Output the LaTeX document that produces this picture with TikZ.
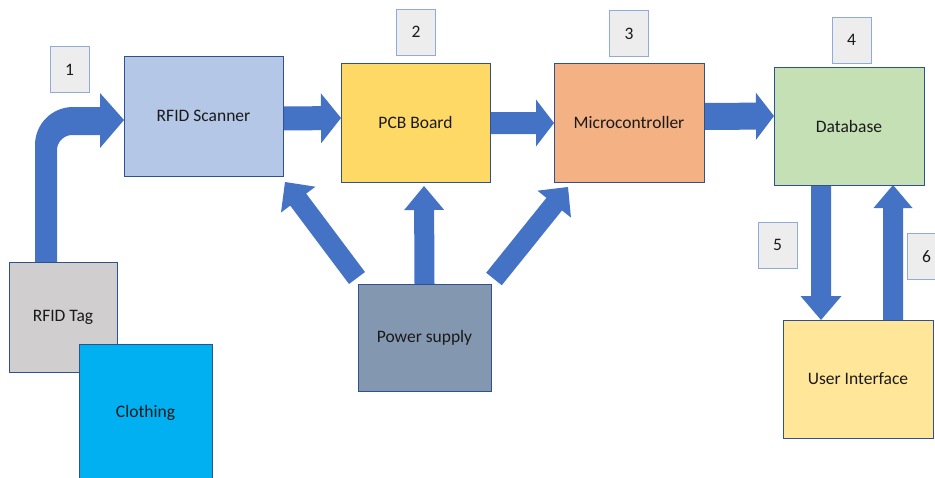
\documentclass[tikz,border=0pt]{standalone}
\usepackage{fontspec}
\setmainfont{Carlito}
\usetikzlibrary{calc,backgrounds}

\definecolor{arrowblue}{HTML}{4472C4}
\definecolor{edgeblue}{HTML}{2F528F}
\definecolor{tagedge}{HTML}{8FAADC}
\definecolor{tagfill}{HTML}{EDEDED}
\definecolor{scanfill}{HTML}{B4C7E7}
\definecolor{pcbfill}{HTML}{FFD966}
\definecolor{mcufill}{HTML}{F4B183}
\definecolor{dbfill}{HTML}{C5E0B4}
\definecolor{uifill}{HTML}{FFE699}
\definecolor{powerfill}{HTML}{8497B0}
\definecolor{rfidfill}{HTML}{D0CECE}
\definecolor{clothfill}{HTML}{00B0F0}
\definecolor{labeltext}{HTML}{1A1A1A}

% straight block arrow: #1 start, #2 tip, #3 shaft half width,
% #4 head half width, #5 head length
\newcommand\blockarrow[5]{%
  \coordinate (ba) at ($(#2)!#5!(#1)$);
  \fill[arrowblue]
    ($(#1)!#3!90:(#2)$) -- ($(ba)!#3!-90:(#1)$) -- ($(ba)!#4!-90:(#1)$)
    -- (#2) -- ($(ba)!#4!90:(#1)$) -- ($(ba)!#3!90:(#1)$)
    -- ($(#1)!#3!-90:(#2)$) -- cycle;}

\tikzset{
  blk/.style={draw=edgeblue, line width=1pt, inner sep=0pt, outer sep=0pt,
    text=labeltext, font=\fontsize{17.5}{21}\selectfont},
  numbox/.style={draw=tagedge, fill=tagfill, line width=1pt, inner sep=0pt,
    outer sep=0pt, minimum width=39pt, minimum height=46pt,
    text=labeltext, font=\fontsize{17.5}{21}\selectfont},
}

\begin{document}
\begin{tikzpicture}[x=1pt, y=-1pt]
\useasboundingbox (0,0) rectangle (935,477);

% main blocks
\node[blk, fill=scanfill, minimum width=159pt, minimum height=120pt] (scan) at (203.5,116) {RFID Scanner};
\node[blk, fill=pcbfill, minimum width=149pt, minimum height=119pt] (pcb) at (415.5,122.5) {PCB Board};
\node[blk, fill=mcufill, minimum width=150pt, minimum height=119pt] (mcu) at (629,122.5) {Microcontroller};
\node[blk, fill=dbfill, minimum width=150pt, minimum height=118pt] (db) at (849,126) {Database};
\node[blk, fill=rfidfill, minimum width=108pt, minimum height=110pt] (tag) at (63,317) {RFID Tag};
\node[blk, fill=clothfill, minimum width=133pt, minimum height=138pt] (cloth) at (145.5,413) {Clothing};
\node[blk, fill=powerfill, minimum width=133pt, minimum height=107pt] (power) at (424.5,337.5) {Power supply};
\node[blk, fill=uifill, minimum width=150pt, minimum height=118pt] (ui) at (858,379) {User Interface};

% step numbers
\node[numbox] (n1) at (69.5,69.5) {1};
\node[numbox] (n2) at (416,32) {2};
\node[numbox] (n3) at (629,33.5) {3};
\node[numbox] (n4) at (851.5,40) {4};
\node[numbox] (n5) at (777.5,245) {5};
\node[numbox] (n6) at (926.5,256.5) {6};

% arrow end points
\coordinate (c0) at ([xshift=-17pt]tag.north);
\coordinate (c1) at ([yshift=-4pt]scan.west);
\coordinate (a1s) at ([yshift=-2.5pt]scan.east);
\coordinate (a1t) at ([yshift=4.5pt]pcb.west);
\coordinate (a2s) at ([yshift=-0.5pt]pcb.east);
\coordinate (a2t) at ([yshift=-0.5pt]mcu.west);
\coordinate (a3s) at ([yshift=6pt]mcu.east);
\coordinate (a3t) at ([yshift=10pt]db.west);
\coordinate (p0s) at (power.north);
\coordinate (p0t) at ([xshift=8.5pt, yshift=-4pt]pcb.south);
\coordinate (p1s) at ([xshift=-1pt, yshift=6pt]power.north west);
\coordinate (p1t) at ([xshift=2pt, yshift=-6pt]scan.south east);
\coordinate (p2s) at ([xshift=3pt, yshift=5pt]power.north east);
\coordinate (p2t) at ([xshift=14pt, yshift=-5pt]mcu.south west);
\coordinate (d5s) at ([xshift=-28pt]db.south);
\coordinate (d5t) at ([xshift=-37pt]ui.north);
\coordinate (d6s) at ([xshift=35pt]ui.north);
\coordinate (d6t) at ([xshift=44pt]db.south);

\begin{scope}[on background layer]
  % bent arrow from the tag up and into the scanner
  \fill[arrowblue]
    ($(c0)+(-11,0)$) -- ($(c0|-c1)+(-11,25)$)
    .. controls ($(c0|-c1)+(-11,4)$) and ($(c0|-c1)+(6,-13)$) .. ($(c0|-c1)+(27,-13)$)
    -- ($(c1)+(-24,-13)$) -- ($(c1)+(-24,-27)$) -- (c1)
    -- ($(c1)+(-24,28)$) -- ($(c1)+(-24,15)$) -- ($(c0|-c1)+(26,15)$)
    .. controls ($(c0|-c1)+(18,15)$) and ($(c0|-c1)+(11,22)$) .. ($(c0|-c1)+(11,30)$)
    -- ($(c0)+(11,0)$) -- cycle;

  \blockarrow{a1s}{a1t}{12pt}{25pt}{20pt}
  \blockarrow{a2s}{a2t}{11pt}{23.5pt}{18pt}
  \blockarrow{a3s}{a3t}{13.5pt}{23.5pt}{18pt}
  \blockarrow{p0s}{p0t}{10pt}{20pt}{24pt}
  \blockarrow{p1s}{p1t}{10pt}{21.5pt}{22pt}
  \blockarrow{p2s}{p2t}{10pt}{21.5pt}{22pt}
  \blockarrow{d5s}{d5t}{10pt}{20.5pt}{24pt}
  \blockarrow{d6s}{d6t}{10pt}{19.5pt}{23pt}
\end{scope}
\end{tikzpicture}
\end{document}
